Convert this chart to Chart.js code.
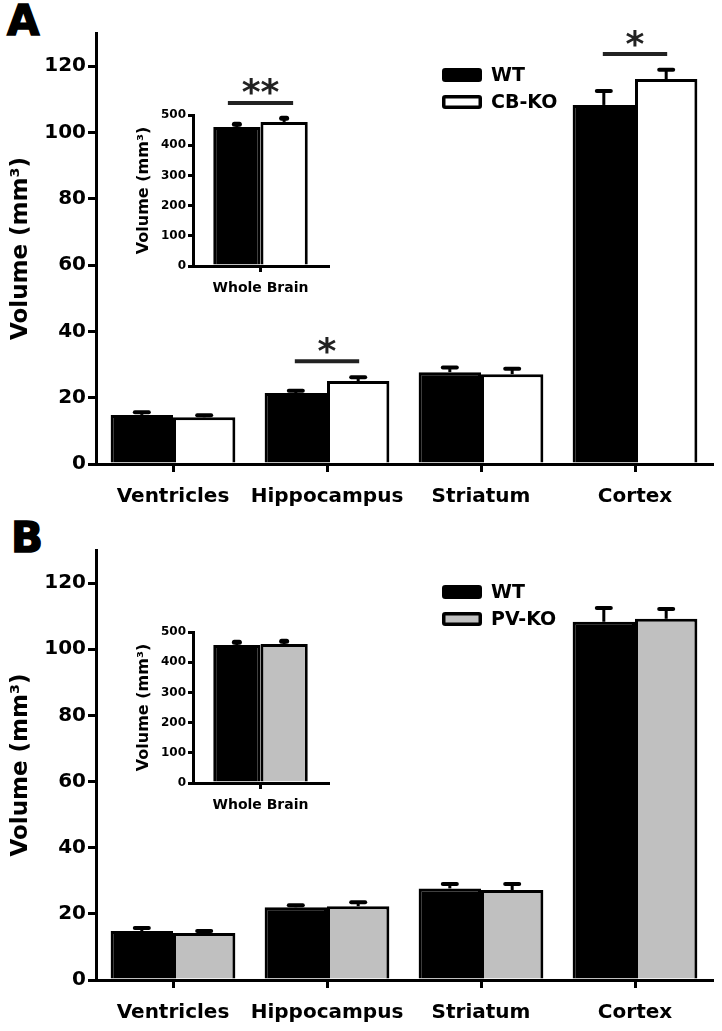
<!DOCTYPE html>
<html>
<head>
<meta charset="utf-8">
<script src="https://cdn.jsdelivr.net/npm/chart.js@4.4.1/dist/chart.umd.min.js"></script>
<style>
  body { margin: 0; background: #fff; width: 722px; height: 1031px; position: relative; overflow: hidden; }
  canvas { position: absolute; }
  .panel { position: absolute; font: bold 42px "DejaVu Sans"; line-height: 1; color: #000; -webkit-text-stroke: 1.5px #000; }
</style>
</head>
<body>
<div class="panel" style="left:7px;top:0px">A</div>
<div class="panel" style="left:11px;top:517px">B</div>
<canvas id="mainA" width="722" height="515" style="left:0;top:0"></canvas>
<canvas id="insetA" width="220" height="240" style="left:120px;top:60px"></canvas>
<canvas id="mainB" width="722" height="514" style="left:0;top:517px"></canvas>
<canvas id="insetB" width="220" height="240" style="left:120px;top:577px"></canvas>
<script>
// data
const regions = ['Ventricles', 'Hippocampus', 'Striatum', 'Cortex'];
const wholeBrain = ['Whole Brain'];
const mainTicks = [0, 20, 40, 60, 80, 100, 120];
const insetTicks = [0, 100, 200, 300, 400, 500];

// panel A: WT vs CB-KO
const wtA = [14.8, 21.4, 27.7, 108.3];
const wtAErr = [0.8, 0.7, 1.4, 4.2];
const cbKo = [14.1, 25.0, 27.1, 116.1];
const cbKoErr = [0.6, 1.2, 1.6, 2.8];
const wtWholeA = [460];
const wtWholeAErr = [9];
const cbKoWhole = [477];
const cbKoWholeErr = [12];

// panel B: WT vs PV-KO
const wtB = [14.8, 22.0, 27.7, 108.3];
const wtBErr = [0.9, 0.6, 1.3, 4.2];
const pvKo = [14.2, 22.3, 27.2, 109.2];
const pvKoErr = [0.6, 1.2, 1.8, 3.0];
const wtWholeB = [457];
const wtWholeBErr = [9];
const pvKoWhole = [460];
const pvKoWholeErr = [9];

// significance bars: category index, height of the bar (axis units), stars
const sigMainA = [{ index: 1, value: 31, text: '*' }, { index: 3, value: 123.7, text: '*' }];
const sigInsetA = [{ index: 0, value: 540, text: '**' }];

const FONT = 'DejaVu Sans';

// upward error bars with caps
const errorBars = {
  id: 'errorBars',
  afterDatasetsDraw(chart, args, opts) {
    const ctx = chart.ctx;
    const y = chart.scales.y;
    chart.data.datasets.forEach((ds, i) => {
      if (!ds.errors) return;
      chart.getDatasetMeta(i).data.forEach((bar, j) => {
        const top = y.getPixelForValue(ds.data[j] + ds.errors[j]);
        ctx.save();
        ctx.strokeStyle = '#000';
        ctx.lineWidth = opts.stem;
        ctx.beginPath();
        ctx.moveTo(bar.x, bar.y);
        ctx.lineTo(bar.x, top);
        ctx.stroke();
        ctx.lineWidth = opts.capWidth;
        ctx.lineCap = 'round';
        ctx.beginPath();
        ctx.moveTo(bar.x - opts.cap / 2, top);
        ctx.lineTo(bar.x + opts.cap / 2, top);
        ctx.stroke();
        ctx.restore();
      });
    });
  }
};

// significance line + stars
const sigMarks = {
  id: 'sigMarks',
  afterDraw(chart, args, opts) {
    if (!opts.items) return;
    const ctx = chart.ctx;
    const m0 = chart.getDatasetMeta(0), m1 = chart.getDatasetMeta(1);
    opts.items.forEach(it => {
      const x0 = m0.data[it.index].x - opts.pad;
      const x1 = m1.data[it.index].x + opts.pad;
      const yy = chart.scales.y.getPixelForValue(it.value);
      ctx.save();
      ctx.strokeStyle = '#222';
      ctx.lineWidth = 4;
      ctx.beginPath();
      ctx.moveTo(x0, yy);
      ctx.lineTo(x1, yy);
      ctx.stroke();
      ctx.fillStyle = '#222';
      ctx.font = opts.font;
      ctx.textAlign = 'center';
      ctx.textBaseline = 'alphabetic';
      const m = ctx.measureText(it.text);
      ctx.fillText(it.text, (x0 + x1) / 2, yy - opts.gap - m.actualBoundingBoxDescent);
      ctx.restore();
    });
  }
};

// legend boxes drawn inside the plot
const boxLegend = {
  id: 'boxLegend',
  afterDraw(chart, args, opts) {
    if (!opts.display) return;
    const ctx = chart.ctx;
    chart.data.datasets.forEach((ds, i) => {
      const bx = opts.x, by = opts.y + i * opts.rowGap;
      ctx.save();
      ctx.fillStyle = ds.backgroundColor;
      ctx.strokeStyle = '#000';
      ctx.lineWidth = 3.5;
      ctx.beginPath();
      ctx.roundRect(bx + 1.75, by + 1.75, opts.w - 3.5, opts.h - 3.5, 1.5);
      ctx.fill();
      ctx.stroke();
      ctx.fillStyle = '#000';
      ctx.font = 'bold 19px "' + FONT + '"';
      ctx.textBaseline = 'middle';
      ctx.textAlign = 'left';
      ctx.fillText(ds.label, bx + opts.w + 9, by + opts.h / 2 + 1);
      ctx.restore();
    });
  }
};

Chart.register(errorBars, sigMarks, boxLegend);

function bars(label, data, errors, color) {
  return {
    label: label, data: data, errors: errors,
    backgroundColor: color, borderColor: '#000', borderWidth: 3,
    categoryPercentage: 0.81, barPercentage: 1.0
  };
}

function mainOptions(sigItems) {
  return {
    responsive: false,
    animation: false,
    layout: { padding: { top: 33, right: 10, left: 7, bottom: 0 } },
    plugins: {
      legend: { display: false },
      tooltip: { enabled: false },
      errorBars: { stem: 3, cap: 14, capWidth: 4 },
      sigMarks: { items: sigItems, pad: 1, gap: 7, font: 'bold 36px "' + FONT + '"' },
      boxLegend: { display: true, x: 442, y: 68, w: 40, h: 14, rowGap: 27 }
    },
    scales: {
      x: {
        grid: { drawOnChartArea: false, offset: false, tickLength: 8, tickWidth: 3, tickColor: '#000', lineWidth: 3 },
        border: { color: '#000', width: 3 },
        ticks: { color: '#000', font: { family: FONT, weight: 'bold', size: 20 }, padding: 13, maxRotation: 0, autoSkip: false },
        afterFit(s) { s.height = 51; }
      },
      y: {
        min: 0, max: 130,
        afterBuildTicks(s) { s.ticks = mainTicks.map(v => ({ value: v })); },
        grid: { drawOnChartArea: false, tickLength: 8, tickWidth: 3, tickColor: '#000', lineWidth: 3 },
        border: { color: '#000', width: 3 },
        ticks: { color: '#000', font: { family: FONT, weight: 'bold', size: 20 }, padding: 2 },
        title: { display: true, text: 'Volume (mm³)', color: '#000', font: { family: FONT, weight: 'bold', size: 23 }, padding: { top: 0, bottom: 0 } },
        afterFit(s) { s.width = 89; }
      }
    }
  };
}

function insetOptions(sigItems) {
  return {
    responsive: false,
    animation: false,
    layout: { padding: { top: 55, right: 12, left: 14, bottom: 0 } },
    plugins: {
      legend: { display: false },
      tooltip: { enabled: false },
      errorBars: { stem: 3, cap: 5, capWidth: 5 },
      sigMarks: { items: sigItems, pad: 9, gap: 8, font: 'bold 36px "' + FONT + '"' },
      boxLegend: { display: false }
    },
    scales: {
      x: {
        grid: { drawOnChartArea: false, offset: false, tickLength: 6, tickWidth: 3, tickColor: '#000', lineWidth: 3 },
        border: { color: '#000', width: 3 },
        ticks: { color: '#000', font: { family: FONT, weight: 'bold', size: 14 }, padding: 8, maxRotation: 0 },
        afterFit(s) { s.height = 34; }
      },
      y: {
        min: 0, max: 500,
        afterBuildTicks(s) { s.ticks = insetTicks.map(v => ({ value: v })); },
        grid: { drawOnChartArea: false, tickLength: 5, tickWidth: 3, tickColor: '#000', lineWidth: 3 },
        border: { color: '#000', width: 3 },
        ticks: { color: '#000', font: { family: FONT, weight: 'bold', size: 12 }, padding: 2 },
        title: { display: true, text: 'Volume (mm³)', color: '#000', font: { family: FONT, weight: 'bold', size: 16 }, padding: { top: 0, bottom: 0 } },
        afterFit(s) { s.width = 59; }
      }
    }
  };
}

new Chart(document.getElementById('mainA'), {
  type: 'bar',
  data: { labels: regions, datasets: [bars('WT', wtA, wtAErr, '#000000'), bars('CB-KO', cbKo, cbKoErr, '#ffffff')] },
  options: mainOptions(sigMainA)
});

new Chart(document.getElementById('insetA'), {
  type: 'bar',
  data: { labels: wholeBrain, datasets: [
    Object.assign(bars('WT', wtWholeA, wtWholeAErr, '#000000'), { categoryPercentage: 0.7 }),
    Object.assign(bars('CB-KO', cbKoWhole, cbKoWholeErr, '#ffffff'), { categoryPercentage: 0.7 })
  ] },
  options: insetOptions(sigInsetA)
});

new Chart(document.getElementById('mainB'), {
  type: 'bar',
  data: { labels: regions, datasets: [bars('WT', wtB, wtBErr, '#000000'), bars('PV-KO', pvKo, pvKoErr, '#c0c0c0')] },
  options: mainOptions([])
});

new Chart(document.getElementById('insetB'), {
  type: 'bar',
  data: { labels: wholeBrain, datasets: [
    Object.assign(bars('WT', wtWholeB, wtWholeBErr, '#000000'), { categoryPercentage: 0.7 }),
    Object.assign(bars('PV-KO', pvKoWhole, pvKoWholeErr, '#c0c0c0'), { categoryPercentage: 0.7 })
  ] },
  options: insetOptions([])
});
</script>
</body>
</html>
